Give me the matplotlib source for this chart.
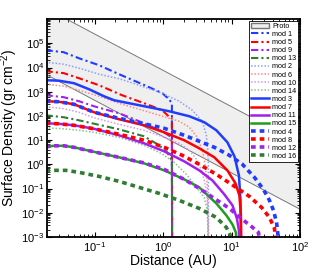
import numpy as np
import matplotlib
matplotlib.use("Agg")
import matplotlib.pyplot as plt
from matplotlib.patches import Patch

plt.rcParams['font.family'] = ['Liberation Sans', 'DejaVu Sans']
plt.rcParams['mathtext.fontset'] = 'custom'
plt.rcParams['mathtext.rm'] = 'Liberation Sans'
plt.rcParams['mathtext.it'] = 'Liberation Sans:italic'

# proto band (power-law edges)
r_proto = [0.019, 100]
s_proto_hi = [2.9e6, 7.6]
s_proto_lo = [5.3e3, 1.4e-2]

# dash-dot models (cut at ~1.35 AU)
r_mod1 = [0.019, 0.035, 0.059, 0.115, 0.226, 0.526, 0.97, 1.22, 1.34, 1.35]
s_mod1 = [5.2e4, 4.3e4, 2.4e4, 1.25e4, 5.3e3, 1.9e3, 870, 490, 330, 1e-4]
r_mod5 = [0.019, 0.0353, 0.0587, 0.115, 0.25, 0.526, 0.967, 1.2, 1.34, 1.35]
s_mod5 = [7060, 5840, 3620, 1860, 718, 335, 172, 97, 80, 1e-4]
r_mod9 = [0.019, 0.0353, 0.0587, 0.0973, 0.226, 0.445, 0.967, 1.34, 1.35]
s_mod9 = [718, 593, 405, 251, 129, 60, 23, 13, 1e-4]
r_mod13 = [0.019, 0.0353, 0.0587, 0.1, 0.226, 0.526, 0.874, 1.145, 1.34, 1.35]
s_mod13 = [107, 88, 66, 47, 28, 14.4, 6.1, 3.1, 1.47, 1e-4]

# dotted models (cut at ~4.6 AU)
r_mod2 = [0.019, 0.0353, 0.0587, 0.115, 0.226, 0.445, 0.874, 1.72, 2.66, 3.73, 4.27, 4.49, 4.57, 4.62]
s_mod2 = [1.66e4, 1.37e4, 9400, 5300, 3450, 1860, 955, 405, 172, 60, 15.9, 3.8, 0.91, 1e-4]
r_mod6 = [0.019, 0.0353, 0.0587, 0.115, 0.226, 0.445, 0.874, 1.72, 2.41, 3.15, 3.73, 4.13, 4.42, 4.62]
s_mod6 = [2050, 1690, 1155, 652, 335, 189, 107, 60, 34, 13.1, 3.8, 0.91, 0.136, 1e-4]
r_mod10 = [0.019, 0.0353, 0.0587, 0.0973, 0.226, 0.526, 1.034, 1.72, 2.41, 3.15, 3.73, 4.13, 4.42, 4.62]
s_mod10 = [240, 198, 142, 84, 45, 25.6, 13.1, 7.4, 3.8, 1.47, 0.47, 0.136, 0.032, 1e-4]
r_mod14 = [0.019, 0.0353, 0.0587, 0.0973, 0.226, 0.526, 0.935, 1.45, 2.25, 3.15, 3.99, 4.42, 4.62]
s_mod14 = [32.4, 29.5, 25.6, 21.1, 13.1, 6.1, 2.86, 1.21, 0.35, 0.102, 0.043, 0.0125, 1e-4]

# solid models (cut at ~14 AU)
r_mod3 = [0.019, 0.0298, 0.0496, 0.0822, 0.136, 0.191, 0.317, 0.623, 1.224, 2.41, 3.99, 5.98, 8.67, 11.0, 12.8, 13.5, 13.8]
s_mod3 = [2990, 2860, 2250, 1270, 652, 446, 335, 229, 156, 97, 54.8, 25.6, 8.2, 2.15, 0.35, 0.0325, 1e-4]
r_mod7 = [0.019, 0.0298, 0.0496, 0.0973, 0.226, 0.526, 1.034, 2.03, 3.37, 5.6, 8.67, 11.4, 13.0, 13.7, 13.9]
s_mod7 = [405, 386, 304, 142, 73, 41, 21.1, 9.9, 4.6, 1.95, 0.565, 0.164, 0.052, 0.0078, 1e-4]
r_mod11 = [0.019, 0.0298, 0.0496, 0.0973, 0.226, 0.526, 1.034, 2.03, 3.37, 5.23, 7.83, 10.3, 11.96, 12.8, 13.2]
s_mod11 = [49.8, 47.4, 41.1, 29.5, 15.9, 7.4, 3.46, 1.33, 0.565, 0.218, 0.0575, 0.0202, 0.00585, 0.00186, 1e-4]
r_mod15 = [0.019, 0.0252, 0.0353, 0.0496, 0.0973, 0.226, 0.526, 1.034, 2.03, 3.37, 5.98, 8.39, 10.3, 11.56, 12.2]
s_mod15 = [5.31, 5.84, 5.84, 5.06, 3.3, 1.95, 1.10, 0.565, 0.24, 0.112, 0.0244, 0.0078, 0.0033, 0.00154, 1e-4]

# dashed models
r_mod4 = [0.019, 0.0298, 0.0496, 0.0973, 0.226, 0.526, 1.034, 2.03, 3.37, 5.6, 9.29, 14.4, 21.6, 29.2, 35.8, 41.0, 45.4, 47.7, 49.5]
s_mod4 = [405, 386, 304, 142, 80, 47.4, 30.9, 15.9, 8.97, 5.06, 2.36, 1.0, 0.29, 0.092, 0.0325, 0.0125, 0.004, 0.00116, 1e-4]
r_mod8 = [0.019, 0.0298, 0.0496, 0.0973, 0.226, 0.526, 1.034, 1.90, 3.37, 5.98, 10, 18.2, 27.4, 35.8, 42.4, 46.1]
s_mod8 = [49.8, 47.4, 41.1, 29.5, 17.5, 9.9, 5.06, 2.36, 1.0, 0.386, 0.149, 0.0475, 0.0167, 0.0064, 0.00225, 1e-4]
r_mod12 = [0.019, 0.0252, 0.0353, 0.0496, 0.0973, 0.226, 0.526, 1.034, 2.03, 3.37, 5.6, 9.29, 14.4, 19.5, 24.7, 28.3]
s_mod12 = [5.31, 5.84, 5.84, 5.06, 3.3, 1.95, 1.15, 0.62, 0.24, 0.102, 0.039, 0.0151, 0.0053, 0.00272, 0.00154, 1e-4]
r_mod16 = [0.019, 0.027, 0.0379, 0.0587, 0.115, 0.226, 0.445, 0.874, 1.716, 3.37, 5.98, 8.39, 9.6, 10]
s_mod16 = [0.54, 0.566, 0.566, 0.468, 0.319, 0.199, 0.112, 0.0632, 0.0325, 0.0151, 0.00643, 0.00248, 0.00116, 1e-4]

blue = '#1f3cff'
red = '#ff0000'
purple = '#a020f0'
green = '#1e9e1e'
dgreen = '#2e7d32'
# the thin dotted lines come out pale in the original
lblue = '#8c9cff'
lred = '#ff8a8a'
lpurple = '#cf9af5'
lgreen = '#8cc08c'

fig = plt.figure(figsize=(3.28, 2.69), dpi=100)
ax = fig.add_axes([0.1433, 0.119, 0.7713, 0.81])

ax.fill_between(r_proto, s_proto_lo, s_proto_hi, color='#efefef', lw=0)
ax.plot(r_proto, s_proto_hi, color='#777777', lw=0.7)
ax.plot(r_proto, s_proto_lo, color='#777777', lw=0.7)

handles = [Patch(facecolor='#efefef', edgecolor='#777777', label='Proto')]

dd = dict(ls=(0, (3.5, 1.5, 1, 1.5)), lw=1.5)
dt = dict(ls=(0, (1, 1.2)), lw=1.1)
sl = dict(ls='-', lw=1.8)
ds = dict(ls=(0, (1.3, 1.1)), lw=2.6)

series = [
    (r_mod1, s_mod1, blue, dd, 'mod 1'),
    (r_mod5, s_mod5, red, dd, 'mod 5'),
    (r_mod9, s_mod9, purple, dd, 'mod 9'),
    (r_mod13, s_mod13, dgreen, dd, 'mod 13'),
    (r_mod2, s_mod2, lblue, dt, 'mod 2'),
    (r_mod6, s_mod6, lred, dt, 'mod 6'),
    (r_mod10, s_mod10, lpurple, dt, 'mod 10'),
    (r_mod14, s_mod14, lgreen, dt, 'mod 14'),
    (r_mod3, s_mod3, blue, sl, 'mod 3'),
    (r_mod7, s_mod7, red, sl, 'mod 7'),
    (r_mod11, s_mod11, purple, sl, 'mod 11'),
    (r_mod15, s_mod15, green, sl, 'mod 15'),
    (r_mod4, s_mod4, blue, ds, 'mod 4'),
    (r_mod8, s_mod8, red, ds, 'mod 8'),
    (r_mod12, s_mod12, purple, ds, 'mod 12'),
    (r_mod16, s_mod16, dgreen, ds, 'mod 16'),
]
for r, s, c, st, lab in series:
    ln, = ax.plot(r, s, color=c, label=lab, **st)
    handles.append(ln)

ax.set_xscale('log')
ax.set_yscale('log')
ax.set_xlim(0.02, 100)
ax.set_ylim(1e-3, 1e6)
ax.set_yticks([10.0**k for k in range(-3, 6)])
ax.tick_params(which='both', direction='in', top=True, right=True, labelsize=8, pad=2)
ax.tick_params(which='major', length=3.5)
ax.tick_params(which='minor', length=2)
for sp in ax.spines.values():
    sp.set_linewidth(1.3)

ax.set_xlabel('Distance (AU)', fontsize=10, labelpad=0)
ax.set_ylabel('Surface Density (gr cm$^{-2}$)', fontsize=10)
ax.yaxis.set_label_coords(-0.105, 0.5)

leg = ax.legend(handles=handles, loc='upper right', fontsize=5.2, handlelength=2.5,
                handletextpad=0.4, labelspacing=0.15, borderpad=0.25,
                borderaxespad=0.25, fancybox=False, framealpha=1)
leg.get_frame().set_edgecolor('black')
leg.get_frame().set_linewidth(0.6)

fig.savefig('out.png', dpi=100)
